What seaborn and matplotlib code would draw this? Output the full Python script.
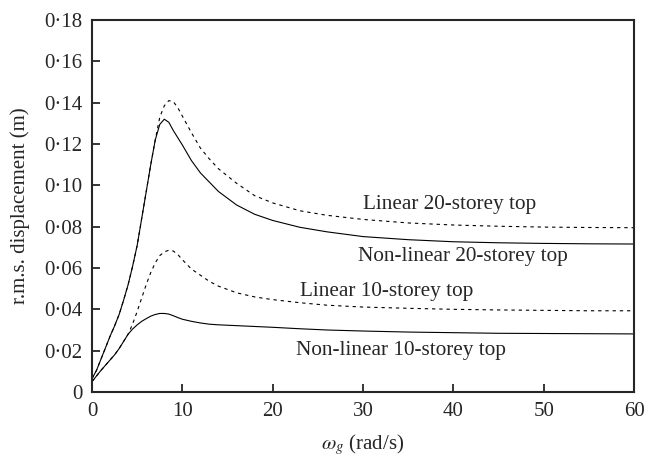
import matplotlib
matplotlib.use("Agg")
import matplotlib.pyplot as plt
import seaborn as sns
import pandas as pd

# ---- data ----
omega = [0, 0.5, 1, 1.5, 2, 2.5, 3, 3.5, 4, 4.5, 5, 5.5, 6, 6.5, 7, 7.5, 8, 8.5, 9, 9.5,
         10, 11, 12, 13, 14, 16, 18, 20, 23, 26, 30, 35, 40, 45, 50, 55, 60]

linear_20 = [0.0065, 0.0105, 0.016, 0.0215, 0.027, 0.032, 0.0375, 0.0445, 0.052, 0.061,
             0.071, 0.084, 0.097, 0.110, 0.122, 0.133, 0.1385, 0.141, 0.1405, 0.1375,
             0.1335, 0.1255, 0.118, 0.1127, 0.108, 0.101, 0.095, 0.0915, 0.0877, 0.0855,
             0.0835, 0.0818, 0.0808, 0.0802, 0.0798, 0.0796, 0.0795]

nonlinear_20 = [0.0065, 0.0105, 0.016, 0.0215, 0.027, 0.032, 0.0375, 0.0445, 0.052, 0.061,
                0.071, 0.084, 0.097, 0.110, 0.122, 0.1295, 0.132, 0.1305, 0.1265, 0.123,
                0.1195, 0.112, 0.106, 0.1015, 0.097, 0.0905, 0.086, 0.0830, 0.0797, 0.0775,
                0.0752, 0.0737, 0.0727, 0.0722, 0.0719, 0.0717, 0.0716]

linear_10 = [0.005, 0.0078, 0.0105, 0.013, 0.0155, 0.018, 0.021, 0.0245, 0.028, 0.033,
             0.039, 0.0455, 0.052, 0.0578, 0.0625, 0.066, 0.0678, 0.0686, 0.0682, 0.0665,
             0.064, 0.0595, 0.0565, 0.0535, 0.0512, 0.048, 0.046, 0.0447, 0.0432, 0.0420,
             0.0411, 0.0405, 0.0400, 0.0397, 0.0395, 0.0393, 0.0393]

nonlinear_10 = [0.005, 0.0078, 0.0105, 0.013, 0.0155, 0.018, 0.021, 0.0245, 0.028, 0.0305,
                0.0325, 0.0342, 0.0355, 0.0367, 0.0375, 0.038, 0.038, 0.0377, 0.0369, 0.036,
                0.0352, 0.0342, 0.0334, 0.0328, 0.0325, 0.0321, 0.0317, 0.0313, 0.0306, 0.0300,
                0.0295, 0.0290, 0.0287, 0.0284, 0.0283, 0.0282, 0.0281]

series_names = ["Linear 20-storey top", "Non-linear 20-storey top",
                "Linear 10-storey top", "Non-linear 10-storey top"]
label_x = [39.6, 41.1, 32.6, 34.2]
label_y = [0.0905, 0.0655, 0.0485, 0.0203]

x_ticks = [0, 10, 20, 30, 40, 50, 60]
y_ticks = [0, 0.02, 0.04, 0.06, 0.08, 0.10, 0.12, 0.14, 0.16, 0.18]
y_tick_labels = ["0", "0·02", "0·04", "0·06", "0·08", "0·10", "0·12", "0·14", "0·16", "0·18"]

# ---- style ----
sns.set_style("ticks")
plt.rcParams["font.family"] = ["Liberation Serif", "DejaVu Serif"]
plt.rcParams["mathtext.fontset"] = "stix"

fig = plt.figure(figsize=(6.49, 4.61), dpi=100)
ax = fig.add_axes([0.1418, 0.1497, 0.977 - 0.1418, 0.9566 - 0.1497])

df = pd.DataFrame({
    "omega": omega * 4,
    "disp": linear_20 + nonlinear_20 + linear_10 + nonlinear_10,
    "series": sum([[n] * len(omega) for n in series_names], []),
})

styles = {series_names[0]: (0, (3, 3.5)), series_names[1]: "-",
          series_names[2]: (0, (3, 3.5)), series_names[3]: "-"}

for name in series_names:
    sub = df[df["series"] == name]
    sns.lineplot(data=sub, x="omega", y="disp", ax=ax, color="black",
                 linewidth=0.8, linestyle=styles[name], sort=False, legend=False)

for name, lx, ly in zip(series_names, label_x, label_y):
    ax.text(lx, ly, name, ha="center", va="center", fontsize=15.3)

ax.set_xlim(0, 60)
ax.set_ylim(0, 0.18)
ax.set_xticks(x_ticks)
ax.set_xticklabels([str(v) for v in x_ticks])
ax.set_yticks(y_ticks)
ax.set_yticklabels(y_tick_labels)
ax.tick_params(direction="in", length=6, width=1.3, labelsize=15, pad=7,
               top=False, right=False)
for sp in ax.spines.values():
    sp.set_linewidth(1.5)
    sp.set_visible(True)

ax.set_xlabel(r"$\omega_g$ (rad/s)", fontsize=15, labelpad=8)
ax.set_ylabel("r.m.s. displacement (m)", fontsize=15, labelpad=10)

fig.savefig("out.png", dpi=100)
